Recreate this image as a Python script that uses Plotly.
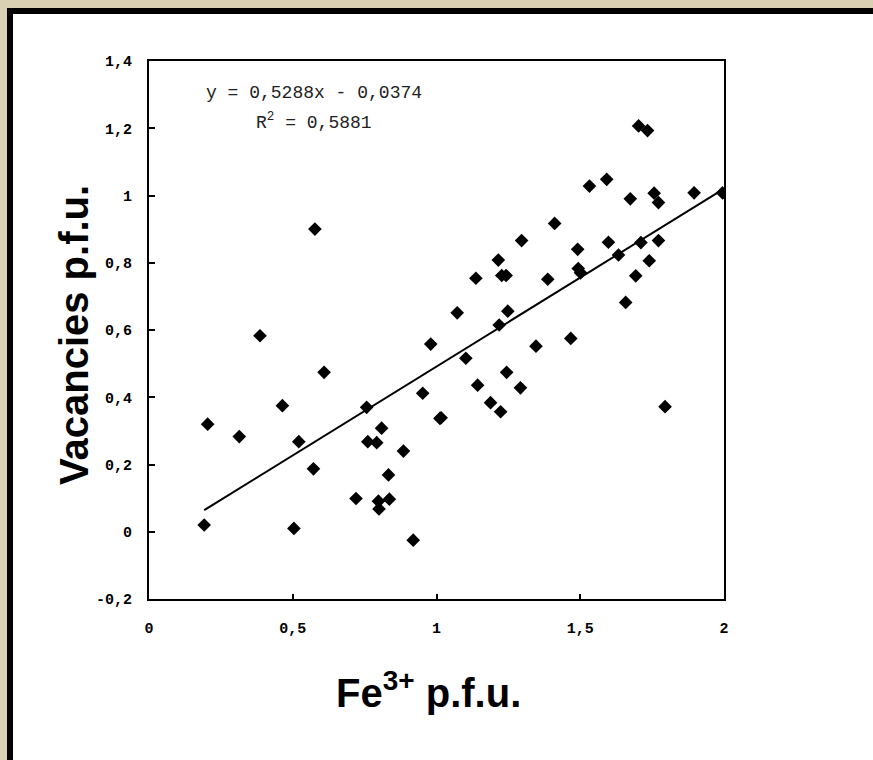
import plotly.graph_objects as go

# Data
fe3 = [0.192, 0.204, 0.314, 0.386, 0.464, 0.521, 0.609, 0.757, 0.761, 0.792,
       0.809, 0.885, 0.980, 0.952, 1.012, 0.572, 0.504, 0.720, 0.798, 0.800,
       0.836, 0.833, 0.919, 0.577, 1.703, 1.734, 1.532, 1.592, 1.674, 1.757,
       1.772, 1.896, 1.995, 1.411, 1.296, 1.491, 1.598, 1.711, 1.772, 1.633,
       1.215, 1.740, 1.137, 1.227, 1.242, 1.387, 1.493, 1.501, 1.693, 1.658,
       1.072, 1.248, 1.218, 1.346, 1.467, 1.102, 1.244, 1.143, 1.292, 1.188,
       1.223, 1.016, 1.795]
vacancies = [0.020, 0.320, 0.283, 0.583, 0.375, 0.268, 0.474, 0.370, 0.268, 0.265,
             0.308, 0.240, 0.558, 0.412, 0.337, 0.187, 0.010, 0.099, 0.091, 0.068,
             0.097, 0.169, -0.025, 0.900, 1.207, 1.193, 1.028, 1.048, 0.990, 1.007,
             0.979, 1.008, 1.008, 0.917, 0.866, 0.840, 0.861, 0.860, 0.866, 0.823,
             0.808, 0.806, 0.754, 0.762, 0.762, 0.751, 0.783, 0.770, 0.761, 0.682,
             0.651, 0.656, 0.615, 0.552, 0.575, 0.516, 0.474, 0.436, 0.428, 0.384,
             0.357, 0.339, 0.372]

slope = 0.5288
intercept = -0.0374
equation_text = "y = 0,5288x - 0,0374"
r2_text = "R<sup>2</sup> = 0,5881"

x_tickvals = [0, 0.5, 1, 1.5, 2]
x_ticktext = ["0", "0,5", "1", "1,5", "2"]
y_tickvals = [-0.2, 0, 0.2, 0.4, 0.6, 0.8, 1.0, 1.2, 1.4]
y_ticktext = ["-0,2", "0", "0,2", "0,4", "0,6", "0,8", "1", "1,2", "1,4"]

W, H = 873, 760
L, R, T, B = 149, 149, 61, 161
PW, PH = W - L - R, H - T - B

def px_x(p):
    return (p - L) / PW

def px_y(p):
    return 1 - (p - T) / PH

xmin, xmax = min(fe3), max(fe3)
trend_x = [xmin, xmax]
trend_y = [slope * v + intercept for v in trend_x]

fig = go.Figure()
fig.add_trace(go.Scatter(
    x=trend_x, y=trend_y, mode="lines",
    line=dict(color="black", width=2), hoverinfo="skip", showlegend=False))
fig.add_trace(go.Scatter(
    x=fe3, y=vacancies, mode="markers",
    marker=dict(symbol="diamond", size=10.5, color="black", line=dict(width=0)),
    showlegend=False))

tickfont = dict(family="Liberation Mono", size=15, color="black", weight="bold")
fig.update_xaxes(range=[0, 2], tickvals=x_tickvals, ticktext=x_ticktext,
                 showgrid=False, zeroline=False, showline=True, linecolor="black",
                 linewidth=2, mirror=True, ticks="inside", ticklen=5, tickwidth=2,
                 tickcolor="black", tickfont=tickfont, ticklabelstandoff=14)
fig.update_yaxes(range=[-0.2, 1.4], tickvals=y_tickvals, ticktext=y_ticktext,
                 showgrid=False, zeroline=False, showline=True, linecolor="black",
                 linewidth=2, mirror=True, ticks="inside", ticklen=6, tickwidth=2,
                 tickcolor="black", tickfont=tickfont, ticklabelstandoff=12)

# frame: textured border strips and black frame line
beige = "#d9cfb3"
shapes = [
    dict(type="rect", xref="paper", yref="paper", x0=px_x(0), x1=px_x(W),
         y0=px_y(0), y1=px_y(8), fillcolor=beige, line=dict(width=0), layer="below"),
    dict(type="rect", xref="paper", yref="paper", x0=px_x(0), x1=px_x(7),
         y0=px_y(0), y1=px_y(H), fillcolor=beige, line=dict(width=0), layer="below"),
    dict(type="rect", xref="paper", yref="paper", x0=px_x(7), x1=px_x(W),
         y0=px_y(8), y1=px_y(14), fillcolor="black", line=dict(width=0), layer="below"),
    dict(type="rect", xref="paper", yref="paper", x0=px_x(7), x1=px_x(13),
         y0=px_y(8), y1=px_y(H), fillcolor="black", line=dict(width=0), layer="below"),
]

annotations = [
    dict(x=0.574, y=1.304, xref="x", yref="y", text=equation_text, showarrow=False,
         xanchor="center", yanchor="middle",
         font=dict(family="Liberation Mono", size=18, color="#222")),
    dict(x=0.574, y=1.219, xref="x", yref="y", text=r2_text, showarrow=False,
         xanchor="center", yanchor="middle",
         font=dict(family="Liberation Mono", size=18, color="#222")),
    dict(x=px_x(428), y=px_y(690), xref="paper", yref="paper",
         xanchor="center", yanchor="middle",
         text="Fe<sup>3+</sup> p.f.u.", showarrow=False,
         font=dict(family="Liberation Sans", size=40, color="black", weight="bold")),
    dict(x=px_x(74), y=px_y(335), xref="paper", yref="paper", textangle=-90,
         xanchor="center", yanchor="middle",
         text="Vacancies p.f.u.", showarrow=False,
         font=dict(family="Liberation Sans", size=40, color="black", weight="bold")),
]

fig.update_layout(width=W, height=H, margin=dict(l=L, r=R, t=T, b=B, pad=0),
                  paper_bgcolor="white", plot_bgcolor="white",
                  shapes=shapes, annotations=annotations, showlegend=False)

fig.write_html("out.html", config={"displayModeBar": False},
               post_script="document.body.style.margin='0';")
